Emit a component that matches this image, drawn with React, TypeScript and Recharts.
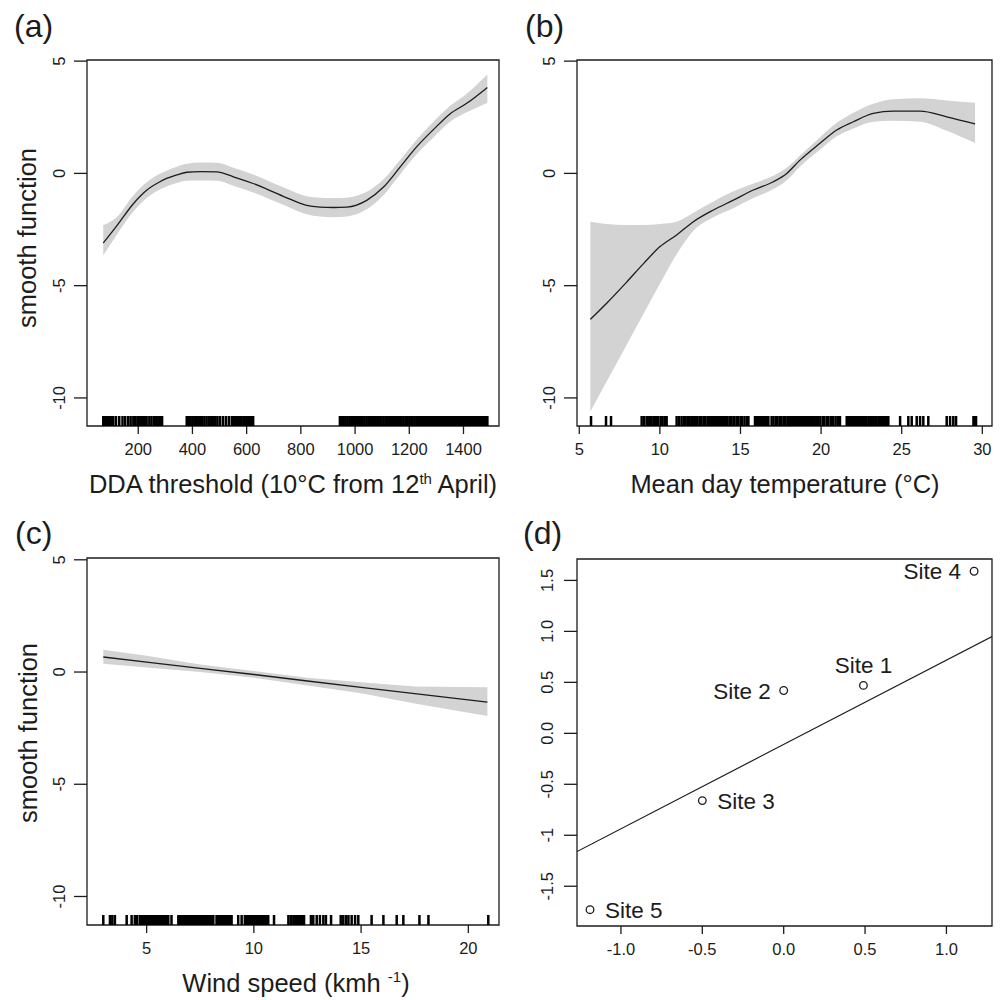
import { ComposedChart, Line, Area, Scatter, XAxis, YAxis, ReferenceArea } from "recharts"

// (a) DDA threshold smooth + 95% band
const ddaX = [71, 120, 182, 231, 280, 342, 379, 430, 489, 551, 624, 735, 821, 870, 920, 969, 1043, 1104, 1166, 1227, 1289, 1350, 1412, 1488]
const ddaFit = [-3.1, -2.35, -1.35, -0.75, -0.37, -0.07, 0.05, 0.08, 0.07, -0.15, -0.45, -1.02, -1.42, -1.5, -1.52, -1.5, -1.2, -0.62, 0.28, 1.18, 1.95, 2.65, 3.12, 3.83]
const ddaLo = [-3.65, -2.75, -1.7, -1.1, -0.72, -0.43, -0.33, -0.32, -0.33, -0.55, -0.85, -1.4, -1.82, -1.92, -1.95, -1.92, -1.6, -0.98, -0.05, 0.85, 1.6, 2.3, 2.72, 3.15]
const ddaHi = [-2.3, -1.95, -0.98, -0.4, -0.02, 0.3, 0.43, 0.48, 0.47, 0.25, -0.05, -0.62, -1.02, -1.08, -1.1, -1.08, -0.82, -0.27, 0.6, 1.5, 2.3, 3.0, 3.55, 4.4]
const ddaRug = [
  71, 75, 80, 84, 89, 93, 97, 102, 106, 108,
  118, 130, 142, 152, 163, 172, 182, 189, 197,
  201, 205, 210, 214, 219, 223, 225,
  231, 241, 249, 258, 265, 274, 280, 288,
  379, 386, 393, 400, 407, 414, 421, 428, 436, 444, 452, 460, 468, 476, 484, 492, 501, 512, 523, 534,
  545, 551, 557, 563, 569, 575, 581, 588, 594, 600, 606, 612, 618, 624,
  944, 951, 958, 965, 972, 979, 986, 993, 1000, 1007, 1014, 1021, 1028, 1035, 1042, 1049, 1056, 1063,
  1070, 1077, 1084, 1091, 1098, 1105, 1112, 1118,
  1123, 1127, 1132, 1136, 1141, 1145, 1149, 1154, 1158, 1163, 1166,
  1172, 1179, 1186, 1192, 1199, 1206, 1212, 1219, 1226, 1232, 1239,
  1246, 1250, 1255, 1259, 1264, 1268, 1272, 1277, 1281, 1283,
  1289, 1293, 1298, 1302, 1307, 1311, 1315, 1320, 1324, 1329, 1333, 1337, 1342, 1346, 1351, 1355,
  1359, 1364, 1368, 1373, 1377, 1381, 1386, 1390, 1395, 1399, 1403, 1406,
  1412, 1416, 1421, 1425, 1430, 1434, 1438, 1443, 1447, 1452, 1456, 1460, 1465, 1469, 1474, 1478,
  1482, 1486, 1488,
]
const ddaTicks = [200, 400, 600, 800, 1000, 1200, 1400]

// (b) mean day temperature
const tempX = [5.69, 6.7, 7.94, 8.97, 10.01, 11.04, 12.08, 13.32, 14.56, 15.8, 17.04, 17.87, 18.69, 19.93, 20.97, 22.0, 23.24, 24.48, 26.14, 27.79, 29.55]
const tempFit = [-6.5, -5.78, -4.84, -4.03, -3.26, -2.74, -2.15, -1.63, -1.19, -0.74, -0.37, 0.0, 0.59, 1.34, 1.93, 2.3, 2.67, 2.77, 2.77, 2.52, 2.2]
const tempLo = [-10.6, -9.27, -7.63, -6.27, -4.9, -3.6, -2.55, -1.95, -1.55, -1.1, -0.7, -0.3, 0.3, 1.05, 1.65, 2.0, 2.3, 2.35, 2.3, 1.9, 1.35]
const tempHi = [-2.15, -2.25, -2.3, -2.3, -2.25, -2.15, -1.75, -1.25, -0.8, -0.45, -0.1, 0.25, 0.8, 1.6, 2.25, 2.7, 3.1, 3.3, 3.35, 3.25, 3.15]
const tempRug = [
  5.73, 6.66, 6.97,
  8.87, 9.02, 9.18, 9.28, 9.39, 9.49, 9.64, 9.76, 9.9, 10.05, 10.17, 10.32, 10.42,
  11.04, 11.2, 11.35, 11.5, 11.6, 11.75, 11.85, 12.0, 12.1, 12.2, 12.3, 12.45, 12.55, 12.7, 12.8, 12.95,
  13.0, 13.06, 13.13, 13.19, 13.26, 13.32, 13.39, 13.45, 13.52, 13.58, 13.65, 13.71, 13.78, 13.84, 13.91, 13.97,
  14.1, 14.2, 14.35, 14.45, 14.6, 14.75, 14.85, 15.0, 15.1, 15.25, 15.4, 15.49,
  15.9, 15.96, 16.03, 16.09, 16.16, 16.22, 16.29, 16.35, 16.42, 16.48, 16.55, 16.61, 16.67, 16.73,
  16.93, 17.05, 17.2, 17.3, 17.45, 17.55, 17.7, 17.8, 17.95, 18.07,
  18.18, 18.24, 18.31, 18.37, 18.44, 18.5, 18.57, 18.63, 18.69,
  18.8, 18.95, 19.05, 19.2, 19.3, 19.45, 19.55, 19.7, 19.8, 19.95, 20.1, 20.2, 20.35, 20.45, 20.6, 20.75, 20.9, 21.05, 21.17,
  21.59, 21.65, 21.72, 21.78, 21.85, 21.91, 21.98, 22.04, 22.11, 22.17, 22.3,
  22.42, 22.48, 22.55, 22.61, 22.68, 22.74, 22.8, 22.93,
  23.04, 23.1, 23.17, 23.23, 23.3, 23.36, 23.42,
  23.55, 23.61, 23.68, 23.74, 23.81, 23.87, 23.94, 24.0, 24.07, 24.13, 24.17,
  24.9, 25.41, 25.62, 25.93, 26.14, 26.34, 26.65, 27.79, 28.0, 28.2, 28.37, 29.45, 29.5, 29.56, 29.61,
]
const tempTicks = [5, 10, 15, 20, 25, 30]

// (c) wind speed
const windX = [2.98, 5, 7.5, 10, 12.5, 15, 17.5, 20.89]
const windFit = [0.67, 0.44, 0.16, -0.11, -0.4, -0.68, -0.96, -1.34]
const windLo = [0.37, 0.2, 0.0, -0.25, -0.6, -0.95, -1.4, -1.96]
const windHi = [0.99, 0.73, 0.33, 0.05, -0.25, -0.45, -0.64, -0.68]
const windRug = [
  2.98, 3.29, 3.4, 3.52, 4.07, 4.3, 4.45, 4.56, 4.69,
  4.77, 4.83, 4.88, 4.94, 4.99, 5.05, 5.1, 5.21, 5.27, 5.33, 5.38, 5.44, 5.49, 5.55, 5.6, 5.66, 5.71, 5.77,
  5.83, 5.88, 5.94, 6.01,
  6.16,
  6.48, 6.54, 6.59, 6.65, 6.7, 6.76, 6.82, 6.87, 6.93, 6.98, 7.04, 7.09, 7.15, 7.21, 7.26, 7.32, 7.37,
  7.43, 7.48, 7.54, 7.6, 7.65, 7.71, 7.76, 7.82, 7.87, 7.93, 7.99, 8.04, 8.11,
  8.26, 8.32, 8.37, 8.43, 8.48, 8.54, 8.6, 8.65, 8.71, 8.76, 8.82, 8.87, 8.93, 8.96,
  9.27, 9.43, 9.58,
  9.66, 9.72, 9.77, 9.83, 9.88, 9.94, 10.0, 10.05, 10.11, 10.16, 10.22, 10.27, 10.33, 10.39, 10.44,
  10.5, 10.55, 10.61, 10.67,
  10.94, 11.61, 11.72,
  11.84, 11.9, 11.95, 12.01, 12.06, 12.12, 12.18, 12.23, 12.29, 12.34,
  12.66, 12.77, 12.93, 13.08, 13.24, 13.36, 13.6, 14.05, 14.17, 14.3, 14.41, 14.56, 14.72, 14.87,
  15.49, 16.04, 16.66, 16.97, 17.72, 18.14, 20.93,
]
const windTicks = [5, 10, 15, 20]

// (d) site effects
const siteNames = ["Site 1", "Site 2", "Site 3", "Site 4", "Site 5"]
const siteX = [0.49, 0.0, -0.5, 1.17, -1.19]
const siteY = [0.47, 0.42, -0.66, 1.59, -1.73]
const siteLineX = [-1.27, 1.28]
const siteLineY = [-1.16, 0.95]
const siteTicksX = [-1, -0.5, 0, 0.5, 1]
const siteTickLabelsX = ["-1.0", "-0.5", "0.0", "0.5", "1.0"]
const siteTicksY = [-1.5, -1, -0.5, 0, 0.5, 1, 1.5]
const siteTickLabelsY = ["-1.5", "-1", "-0.5", "0.0", "0.5", "1.0", "1.5"]

const smoothTicksY = [-10, -5, 0, 5]

// label placement around the points (like R's text pos=)
const labelSide: Record<string, string> = {
  "Site 1": "above",
  "Site 2": "left",
  "Site 3": "right",
  "Site 4": "left",
  "Site 5": "right",
}

const font = "'Liberation Sans', Arial, Helvetica, sans-serif"
const ink = "#1c1c1c"
const bandFill = "#d3d3d3"

const toSeries = (xs: number[], fit: number[], lo: number[], hi: number[]) =>
  xs.map((x, i) => ({ x, fit: fit[i], band: [lo[i], hi[i]] }))

const toRug = (xs: number[], y: number) => xs.map((x) => ({ x, y }))

const dataA = toSeries(ddaX, ddaFit, ddaLo, ddaHi)
const dataB = toSeries(tempX, tempFit, tempLo, tempHi)
const dataC = toSeries(windX, windFit, windLo, windHi)
const dataD = siteLineX.map((x, i) => ({ x, fit: siteLineY[i] }))
const sites = siteNames.map((name, i) => ({ name, x: siteX[i], y: siteY[i] }))

const yDomAB: [number, number] = [-11.25, 5.05]
const yDomC: [number, number] = [-11.27, 5.08]
const yDomD: [number, number] = [-1.89, 1.71]
const xDomA: [number, number] = [11, 1531]
const xDomB: [number, number] = [4.86, 30.6]
const xDomC: [number, number] = [2.22, 21.43]
const xDomD: [number, number] = [-1.27, 1.28]

const lookup = (ticks?: number[], labels?: string[]) => (v: number) => {
  if (!ticks || !labels) return String(v)
  const i = ticks.indexOf(v)
  return i >= 0 ? labels[i] : String(v)
}

const makeXTick = (ticks?: number[], labels?: string[]) => {
  const fmt = lookup(ticks, labels)
  return (p: any) => (
    <text x={p.x} y={p.y} dy="0.72em" textAnchor="middle" fontSize={16.5} fontFamily={font} fill={ink}>
      {fmt(p.payload.value)}
    </text>
  )
}

const makeYTick = (ticks?: number[], labels?: string[]) => {
  const fmt = lookup(ticks, labels)
  return (p: any) => (
    <text
      x={p.x}
      y={p.y}
      transform={`rotate(-90 ${p.x} ${p.y})`}
      textAnchor="middle"
      fontSize={16.5}
      fontFamily={font}
      fill={ink}
    >
      {fmt(p.payload.value)}
    </text>
  )
}

// rug tick: a filled bar standing on the bottom edge
const rugMark = (p: any) => <rect x={p.cx - 1.25} y={p.cy - 10} width={2.5} height={10} fill="#000" />

const siteMark = (p: any) => {
  const { cx, cy, payload } = p
  const side = labelSide[payload.name]
  let tx = cx
  let ty = cy + 8
  let anchor: "start" | "middle" | "end" = "middle"
  if (side === "left") {
    tx = cx - 13
    anchor = "end"
  } else if (side === "right") {
    tx = cx + 15
    anchor = "start"
  } else {
    ty = cy - 12
  }
  return (
    <g>
      <circle cx={cx} cy={cy} r={3.8} fill="#fff" stroke={ink} strokeWidth={1.3} />
      <text x={tx} y={ty} textAnchor={anchor} fontSize={22.5} fontFamily={font} fill={ink}>
        {payload.name}
      </text>
    </g>
  )
}

const tickLine = { stroke: ink, strokeWidth: 1.3 }

export default function App() {
  return (
    <div style={{ position: "absolute", left: 0, top: 0, width: 1000, height: 1000, background: "#fff" }}>
      {/* (a) */}
      <div style={{ position: "absolute", left: 0, top: 0 }}>
        <ComposedChart width={500} height={500} data={dataA} margin={{ top: 60, right: 1, bottom: 0, left: 0 }}>
          <XAxis
            type="number"
            dataKey="x"
            domain={xDomA}
            ticks={ddaTicks}
            interval={0}
            allowDataOverflow
            height={74}
            axisLine={false}
            tickLine={tickLine}
            tickSize={8}
            tickMargin={9}
            tick={makeXTick()}
          />
          <YAxis
            type="number"
            dataKey="y"
            domain={yDomAB}
            ticks={smoothTicksY}
            interval={0}
            allowDataOverflow
            width={87}
            axisLine={false}
            tickLine={tickLine}
            tickSize={13}
            tickMargin={9}
            tick={makeYTick()}
          />
          <Area dataKey="band" type="monotone" stroke="none" fill={bandFill} fillOpacity={1} isAnimationActive={false} />
          <Line dataKey="fit" type="monotone" stroke={ink} strokeWidth={1.3} dot={false} activeDot={false} isAnimationActive={false} />
          <Scatter data={toRug(ddaRug, yDomAB[0])} shape={rugMark} isAnimationActive={false} />
          <ReferenceArea x1={xDomA[0]} x2={xDomA[1]} y1={yDomAB[0]} y2={yDomAB[1]} fill="none" stroke={ink} strokeWidth={1.3} />
        </ComposedChart>
      </div>

      {/* (b) */}
      <div style={{ position: "absolute", left: 500, top: 0 }}>
        <ComposedChart width={500} height={500} data={dataB} margin={{ top: 60, right: 8, bottom: 0, left: 0 }}>
          <XAxis
            type="number"
            dataKey="x"
            domain={xDomB}
            ticks={tempTicks}
            interval={0}
            allowDataOverflow
            height={74}
            axisLine={false}
            tickLine={tickLine}
            tickSize={8}
            tickMargin={9}
            tick={makeXTick()}
          />
          <YAxis
            type="number"
            dataKey="y"
            domain={yDomAB}
            ticks={smoothTicksY}
            interval={0}
            allowDataOverflow
            width={77}
            axisLine={false}
            tickLine={tickLine}
            tickSize={13}
            tickMargin={9}
            tick={makeYTick()}
          />
          <Area dataKey="band" type="monotone" stroke="none" fill={bandFill} fillOpacity={1} isAnimationActive={false} />
          <Line dataKey="fit" type="monotone" stroke={ink} strokeWidth={1.3} dot={false} activeDot={false} isAnimationActive={false} />
          <Scatter data={toRug(tempRug, yDomAB[0])} shape={rugMark} isAnimationActive={false} />
          <ReferenceArea x1={xDomB[0]} x2={xDomB[1]} y1={yDomAB[0]} y2={yDomAB[1]} fill="none" stroke={ink} strokeWidth={1.3} />
        </ComposedChart>
      </div>

      {/* (c) */}
      <div style={{ position: "absolute", left: 0, top: 500 }}>
        <ComposedChart width={500} height={500} data={dataC} margin={{ top: 58, right: 1, bottom: 0, left: 0 }}>
          <XAxis
            type="number"
            dataKey="x"
            domain={xDomC}
            ticks={windTicks}
            interval={0}
            allowDataOverflow
            height={75}
            axisLine={false}
            tickLine={tickLine}
            tickSize={8}
            tickMargin={9}
            tick={makeXTick()}
          />
          <YAxis
            type="number"
            dataKey="y"
            domain={yDomC}
            ticks={smoothTicksY}
            interval={0}
            allowDataOverflow
            width={87}
            axisLine={false}
            tickLine={tickLine}
            tickSize={13}
            tickMargin={9}
            tick={makeYTick()}
          />
          <Area dataKey="band" type="linear" stroke="none" fill={bandFill} fillOpacity={1} isAnimationActive={false} />
          <Line dataKey="fit" type="linear" stroke={ink} strokeWidth={1.3} dot={false} activeDot={false} isAnimationActive={false} />
          <Scatter data={toRug(windRug, yDomC[0])} shape={rugMark} isAnimationActive={false} />
          <ReferenceArea x1={xDomC[0]} x2={xDomC[1]} y1={yDomC[0]} y2={yDomC[1]} fill="none" stroke={ink} strokeWidth={1.3} />
        </ComposedChart>
      </div>

      {/* (d) */}
      <div style={{ position: "absolute", left: 500, top: 500 }}>
        <ComposedChart width={500} height={500} data={dataD} margin={{ top: 59, right: 8, bottom: 0, left: 0 }}>
          <XAxis
            type="number"
            dataKey="x"
            domain={xDomD}
            ticks={siteTicksX}
            interval={0}
            allowDataOverflow
            height={74}
            axisLine={false}
            tickLine={tickLine}
            tickSize={8}
            tickMargin={9}
            tick={makeXTick(siteTicksX, siteTickLabelsX)}
          />
          <YAxis
            type="number"
            dataKey="y"
            domain={yDomD}
            ticks={siteTicksY}
            interval={0}
            allowDataOverflow
            width={77}
            axisLine={false}
            tickLine={tickLine}
            tickSize={13}
            tickMargin={11}
            tick={makeYTick(siteTicksY, siteTickLabelsY)}
          />
          <Line dataKey="fit" type="linear" stroke={ink} strokeWidth={1.2} dot={false} activeDot={false} isAnimationActive={false} />
          <Scatter data={sites} shape={siteMark} isAnimationActive={false} />
          <ReferenceArea x1={xDomD[0]} x2={xDomD[1]} y1={yDomD[0]} y2={yDomD[1]} fill="none" stroke={ink} strokeWidth={1.3} />
        </ComposedChart>
      </div>

      {/* titles and panel letters */}
      <svg width={1000} height={1000} style={{ position: "absolute", left: 0, top: 0, pointerEvents: "none" }}>
        <g fontFamily={font} fill={ink}>
          <text x={14} y={37} fontSize={32}>(a)</text>
          <text x={525} y={37} fontSize={32}>(b)</text>
          <text x={15} y={544} fontSize={32}>(c)</text>
          <text x={523} y={544} fontSize={32}>(d)</text>

          <text x={293} y={493} fontSize={25.5} textAnchor="middle">
            DDA threshold (10°C from 12<tspan fontSize={15} dy={-9}>th</tspan>
            <tspan dy={9}> April)</tspan>
          </text>
          <text x={785} y={493} fontSize={25.5} textAnchor="middle">Mean day temperature (°C)</text>
          <text x={296} y={992} fontSize={25.5} textAnchor="middle">
            Wind speed (kmh <tspan fontSize={15} dy={-10}>-1</tspan>
            <tspan dy={10}>)</tspan>
          </text>

          <text x={36} y={238} fontSize={25.5} textAnchor="middle" transform="rotate(-90 36 238)">smooth function</text>
          <text x={37} y={733} fontSize={25.5} textAnchor="middle" transform="rotate(-90 37 733)">smooth function</text>
        </g>
      </svg>
    </div>
  )
}
